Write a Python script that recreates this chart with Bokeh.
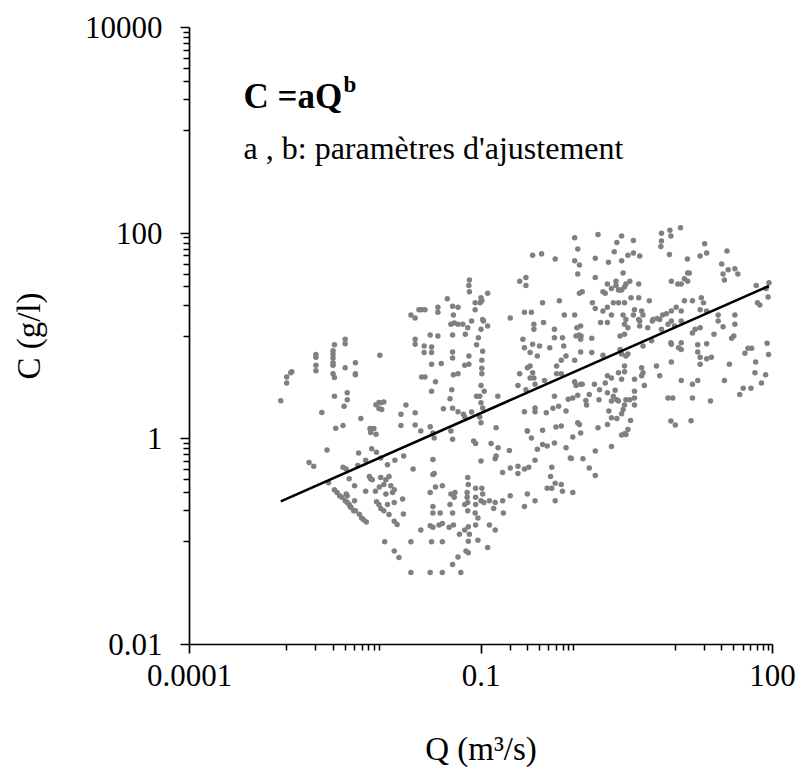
from bokeh.plotting import figure
from bokeh.models import FixedTicker, Range1d, Label, CustomJSTickFormatter
from bokeh.embed import file_html
from bokeh.resources import INLINE

# ---- data: Q (m3/s), C (g/l) ----
q_low = [0.004, 0.004, 0.0031, 0.002, 0.002, 0.003, 0.003, 0.003, 0.003, 0.003, 0.002, 0.002, 0.003, 0.0031, 0.004,
         0.0051, 0.0051, 0.0051, 0.0091, 0.001, 0.0011, 0.00113, 0.001, 0.00087, 0.0031, 0.0042, 0.0042, 0.0039, 0.0023,
         0.0058, 0.0083, 0.0089, 0.0089, 0.0032, 0.0038, 0.0072, 0.0079, 0.0073, 0.0083, 0.0026, 0.0017, 0.0019, 0.0055,
         0.0075, 0.0084, 0.0065, 0.0038, 0.0041, 0.0054, 0.0044, 0.0071, 0.0073, 0.0076, 0.0027, 0.005, 0.0065, 0.0082,
         0.0031, 0.0033, 0.0035, 0.0037, 0.004, 0.0042, 0.0044, 0.0046, 0.0049, 0.0041, 0.0042, 0.005, 0.0045, 0.0051,
         0.0056, 0.0059, 0.0062, 0.0066, 0.0084, 0.0089, 0.009]
c_low = [9.3, 8.4, 8.2, 6.6, 6.2, 7.2, 6.7, 6.1, 5.5, 5.2, 5.2, 4.6, 4.3, 3.95, 4.9, 5.5, 4.3, 4.2, 6.5, 4.0, 4.4, 4.5,
         3.5, 2.35, 2.6, 2.8, 2.4, 2.08, 1.8, 1.58, 2.14, 2.25, 1.97, 1.27, 1.35, 1.26, 1.26, 1.15, 1.11, 0.78, 0.59, 0.54,
         0.73, 0.80, 0.74, 0.62, 0.53, 0.51, 0.55, 0.41, 0.43, 0.41, 0.40, 0.375, 0.35, 0.31, 0.31, 0.32, 0.30, 0.28, 0.27,
         0.25, 0.24, 0.23, 0.215, 0.2, 0.29, 0.28, 0.25, 0.22, 0.2, 0.185, 0.17, 0.163, 0.155, 0.245, 0.23, 0.34]

q_mid_top = [0.34, 0.42, 0.58, 0.25, 0.29, 0.29, 0.076, 0.075, 0.076, 0.117, 0.1, 0.102, 0.087, 0.098, 0.045, 0.019,
             0.021, 0.023, 0.0245, 0.0265, 0.036, 0.036, 0.051, 0.058, 0.052, 0.087, 0.2, 0.28, 0.33, 0.43, 0.64, 0.72,
             0.049, 0.053, 0.058, 0.065, 0.08, 0.073, 0.104, 0.106, 0.117, 0.1, 0.35, 0.44, 0.35, 0.57, 0.97]
c_mid_top = [61, 63, 56, 34, 37, 31, 35, 31, 27, 26, 23.5, 22, 21, 21, 23, 16, 15, 18, 18, 18, 19, 17, 19.5, 19, 16, 18,
             15, 17, 17, 21, 22, 16, 13, 13.4, 13, 13, 14, 12, 14.5, 14, 12.5, 11.6, 13, 13.5, 11.6, 11.6, 12]

q_mid_1 = [0.021, 0.021, 0.030, 0.036, 0.051, 0.069, 0.094, 0.026, 0.031, 0.026, 0.031, 0.051, 0.051, 0.075, 0.09,
           0.104, 0.27, 0.34, 0.40, 0.51, 0.28, 0.32, 0.38, 0.57, 0.69, 0.71, 0.75, 0.67]
c_mid_1 = [9.3, 8.3, 10.2, 10, 10.2, 10.4, 9.6, 8.0, 7.8, 6.9, 6.9, 7.0, 6.1, 6.4, 8.2, 7.1, 9.3, 8.3, 8.0, 7.7, 7.7,
           6.9, 6.4, 9.6, 9.6, 8.0, 6.4, 5.8]

q_mid_2 = [0.031, 0.039, 0.068, 0.075, 0.102, 0.102, 0.102, 0.0245, 0.0265, 0.034, 0.052, 0.058, 0.25, 0.30, 0.32,
           0.34, 0.32, 0.35, 0.60, 0.60, 0.67, 0.24, 0.29, 0.36, 0.45, 0.031, 0.05, 0.1, 0.108, 0.09, 0.097, 0.149,
           0.048]
c_mid_2 = [5.3, 5.4, 5.2, 5.3, 5.8, 4.85, 4.3, 4.0, 4.0, 3.6, 4.2, 4.3, 4.3, 4.9, 5.1, 4.4, 3.9, 3.9, 5.1, 4.3, 4.3,
           3.3, 3.0, 3.4, 3.7, 2.9, 3.0, 3.3, 2.9, 2.6, 2.6, 2.6, 2.45]

q_mid_3 = [0.0093, 0.01, 0.0095, 0.0169, 0.021, 0.015, 0.041, 0.051, 0.058, 0.066, 0.068, 0.08, 0.1, 0.104, 0.097,
           0.1, 0.143, 0.30, 0.36, 0.36, 0.28, 0.47, 0.55, 0.63, 0.75, 0.57, 0.79, 0.015, 0.021, 0.024, 0.030, 0.049,
           0.051, 0.033, 0.032]
c_mid_3 = [2.24, 2.28, 1.93, 2.13, 1.79, 1.73, 1.96, 1.98, 1.83, 1.73, 1.63, 1.82, 2.24, 2.0, 1.63, 1.43, 1.28, 1.19,
           2.0, 1.83, 1.83, 1.79, 1.98, 2.08, 1.86, 2.6, 2.42, 1.35, 1.36, 1.19, 1.31, 1.19, 0.99, 1.02, 1.14]

q_mid_4 = [0.084, 0.088, 0.127, 0.15, 0.143, 0.14, 0.196, 0.1, 0.0093, 0.0109, 0.013, 0.016, 0.020, 0.032, 0.032,
           0.033, 0.167, 0.20, 0.24, 0.28, 0.31, 0.36, 0.38, 0.43, 0.48, 0.57, 0.535, 0.30, 0.33, 0.43, 0.59, 0.67,
           0.75, 0.83]
c_mid_4 = [0.95, 0.90, 0.90, 0.82, 0.68, 0.64, 0.77, 0.61, 0.65, 0.56, 0.62, 0.68, 0.51, 0.63, 0.45, 0.46, 0.47, 0.52,
           0.46, 0.51, 0.53, 0.62, 0.79, 0.88, 0.85, 0.91, 0.53, 1.19, 1.02, 1.21, 1.30, 1.33, 0.82, 0.65]

q_mid_5 = [0.0093, 0.0105, 0.0113, 0.01, 0.0118, 0.0128, 0.0123, 0.0105, 0.0156, 0.0128, 0.0109, 0.0093, 0.01, 0.0113,
           0.0128, 0.0137, 0.0159, 0.030, 0.034, 0.040, 0.049, 0.054, 0.053, 0.048, 0.073, 0.074, 0.072, 0.072, 0.073,
           0.088, 0.102, 0.104, 0.088, 0.1, 0.122, 0.14, 0.135, 0.107, 0.032, 0.038, 0.032, 0.051, 0.068, 0.088, 0.073,
           0.087, 0.167, 0.2, 0.17, 0.24, 0.30, 0.36, 0.28, 0.48, 0.52, 0.58, 0.67, 0.58, 0.535, 0.69]
c_mid_5 = [0.42, 0.40, 0.43, 0.36, 0.35, 0.32, 0.30, 0.29, 0.26, 0.24, 0.23, 0.21, 0.2, 0.184, 0.158, 0.147, 0.186,
           0.30, 0.34, 0.35, 0.29, 0.30, 0.27, 0.23, 0.42, 0.36, 0.30, 0.27, 0.24, 0.33, 0.33, 0.29, 0.27, 0.25, 0.25,
           0.24, 0.21, 0.24, 0.22, 0.19, 0.19, 0.19, 0.23, 0.23, 0.2, 0.19, 0.25, 0.28, 0.19, 0.54, 0.29, 0.25, 0.22,
           0.33, 0.43, 0.37, 0.36, 0.25, 0.33, 0.31]

q_mid_6 = [0.024, 0.030, 0.032, 0.037, 0.040, 0.047, 0.052, 0.06, 0.068, 0.074, 0.076, 0.093, 0.088, 0.122, 0.14,
           0.117, 0.093, 0.074, 0.07, 0.074, 0.058, 0.051, 0.031, 0.04, 0.019, 0.0128, 0.0143, 0.019, 0.030, 0.040,
           0.062, 0.0102]
c_mid_6 = [0.13, 0.143, 0.138, 0.145, 0.15, 0.138, 0.145, 0.118, 0.13, 0.14, 0.118, 0.17, 0.145, 0.145, 0.13, 0.088,
           0.103, 0.101, 0.081, 0.078, 0.071, 0.06, 0.1, 0.1, 0.1, 0.081, 0.07, 0.05, 0.05, 0.05, 0.05, 0.1]

q_high_1 = [0.95, 1.02, 1.07, 1.06, 1.38, 2.7, 3.0, 1.06, 1.38, 0.92, 1.8, 2.7, 2.8, 3.25, 3.1, 4.65, 5.7, 9.0, 9.1,
            11.5, 10.8, 11.5, 15, 17, 17, 18, 18, 21, 23.5, 21, 25, 40, 38, 52, 56, 61, 67, 66, 36, 77, 9.1, 6.4, 6.9,
            11.5, 15, 17, 32, 46, 50, 60, 23, 15, 8.4, 9.4, 9.0, 10, 14.5]
c_high_1 = [10, 10.2, 10, 9.3, 9.5, 10, 10.4, 7.0, 6.9, 5.8, 6.5, 7.4, 6.7, 6.7, 6.4, 8.0, 9.0, 8.6, 8.3, 8.6, 7.7,
            7.4, 10.7, 8.2, 7.0, 6.2, 5.3, 6.0, 6.2, 8.4, 10.4, 10, 9.5, 6.8, 7.6, 7.6, 5.6, 4.4, 5.3, 3.5, 5.6, 5.1,
            4.1, 3.7, 3.4, 3.7, 3.7, 2.7, 3.1, 3.1, 2.33, 2.5, 2.5, 2.5, 1.49, 1.36, 1.5]

q_high_2 = [0.92, 0.95, 1.06, 1.1, 1.47, 2.0, 2.2, 1.9, 2.6, 3.0, 2.8, 3.0, 4.5, 4.65, 4.5, 3.8, 4.8, 0.88, 0.99, 1.3,
            1.2, 1.22, 1.66, 1.64, 2.0, 2.4, 2.3, 2.5, 2.6, 2.2, 3.1, 3.4, 3.8, 3.8, 3.8, 3.0, 2.9, 2.8, 2.07, 2.2, 2.5,
            3.46, 2.0, 1.6, 1.06, 0.99, 1.03, 3.25, 3.0, 2.8, 3.1, 0.88, 1.5, 2.2, 0.85, 1.12, 1.3, 1.5, 0.88]
c_high_2 = [3.6, 3.3, 3.4, 3.4, 3.4, 4.1, 3.9, 3.5, 4.4, 4.5, 3.8, 5.1, 4.9, 4.4, 4.1, 3.8, 3.3, 2.5, 2.66, 2.7, 2.36,
            2.13, 3.0, 2.4, 2.8, 2.96, 2.6, 2.4, 2.33, 2.33, 2.4, 2.4, 2.9, 2.5, 2.13, 2.13, 1.93, 1.75, 1.86, 1.6, 1.58,
            1.51, 1.38, 1.28, 1.14, 1.43, 1.38, 1.23, 1.12, 1.09, 1.1, 1.04, 0.76, 0.84, 0.645, 0.64, 0.52, 0.44, 0.30]

q_high_3 = [0.92, 0.99, 1.6, 2.8, 2.5, 3.7, 7.2, 8.8, 11.3, 9.0, 7.2, 7.1, 8.7, 20, 21, 18, 13.3, 34, 30, 35, 41, 44,
            31, 32, 0.92, 1.03, 1.5, 2.05, 2.35, 3.25, 3.7, 4.3, 2.8, 2.9, 2.45, 2.7, 0.99, 1.5, 2.0, 2.2, 1.8, 1.03,
            1.1, 1.9, 2.45, 3.1, 3.4, 4.2, 3.0, 2.8, 2.6, 3.5, 4.2, 5.4, 4.5, 4.65, 3.8, 3.0, 2.6, 2.3, 1.4, 1.5, 1.8,
            2.0, 2.2, 2.0, 1.7, 0.92, 1.06, 2.9, 3.1, 3.7, 4.2, 4.3, 5.9, 5.8, 6.5, 6.9, 8.1, 9.1, 10.2, 11.5, 11.5,
            12.4, 15, 18.5, 18, 19.5, 21, 27.6, 41, 41, 68, 70, 74, 9.1, 10.6, 11.5, 12.4, 13.9, 13.4, 13.4, 9.1, 9.8,
            8.4, 7.4, 7.2, 5.2, 4.3, 3.25, 3.0, 27.6, 31, 16, 18]
c_high_3 = [90, 70, 97, 94, 81, 85, 100, 107, 113, 94, 84, 74, 62, 79, 64, 60, 56, 67, 50, 44, 45, 40, 40, 35, 54, 49,
            57, 52, 66, 61, 64, 60, 54, 41, 34, 28, 40, 37, 32, 29, 27, 26, 27, 26, 31, 32, 34, 32, 30, 28, 28, 23.5,
            23.5, 22, 17.5, 16, 18, 21, 21, 21, 21, 18.5, 17.5, 19, 16, 13.5, 13.5, 16, 12.5, 16, 14.5, 16, 14.5, 14,
            14.5, 14, 14.8, 14.5, 16.5, 17.5, 19, 17.5, 14, 22, 22, 23.5, 18, 21, 17.5, 16, 16, 13, 31, 21, 20, 34, 32,
            32, 36, 41, 41, 34, 14, 12.5, 13, 16, 11.6, 12, 12.5, 12, 13, 14, 12.3, 11.6, 12]

# points at the right edge of the Q range
q_edge = [86, 90, 92, 88, 91, 85]
c_edge = [29, 24, 33, 8.5, 6.6, 4.2]

# power-law fit C = a Q^b, drawn over the observed Q range
fit_a = 4.65
fit_b = 0.417

# axis ticks
x_major = [0.0001, 0.1, 100]
x_minor = [0.001, 0.002, 0.003, 0.004, 0.005, 0.006, 0.007, 0.008, 0.009,
           0.2, 0.3, 0.4, 0.5, 0.6, 0.7, 0.8, 0.9,
           10, 20, 30, 40, 50, 60, 70, 80, 90]
y_major = [0.01, 1, 100, 10000]
y_minor = [0.1, 0.2, 0.3, 0.4, 0.5, 0.6, 0.7, 0.8, 0.9,
           10, 20, 30, 40, 50, 60, 70, 80, 90,
           1000, 2000, 3000, 4000, 5000, 6000, 7000, 8000, 9000]

groups = [(q_low, c_low), (q_mid_top, c_mid_top), (q_mid_1, c_mid_1), (q_mid_2, c_mid_2), (q_mid_3, c_mid_3),
          (q_mid_4, c_mid_4), (q_mid_5, c_mid_5), (q_mid_6, c_mid_6), (q_high_1, c_high_1), (q_high_2, c_high_2),
          (q_high_3, c_high_3), (q_edge, c_edge)]
q_all, c_all = [], []
for qs, cs in groups:
    n = min(len(qs), len(cs))
    q_all += qs[:n]
    c_all += cs[:n]

fit_q = [min(q_all), max(q_all)]
fit_c = [fit_a * q ** fit_b for q in fit_q]

FONT = "Liberation Serif"

p = figure(frame_width=583, frame_height=617, x_axis_type="log", y_axis_type="log",
           x_range=Range1d(1e-4, 100), y_range=Range1d(0.01, 10000),
           output_backend="svg", toolbar_location=None,
           min_border_left=189, min_border_right=27, min_border_top=27, min_border_bottom=10)
p.outline_line_color = None
p.xgrid.visible = False
p.ygrid.visible = False
p.background_fill_color = "white"
p.border_fill_color = "white"

p.scatter(q_all, c_all, size=5.5, fill_color="#808080", line_color=None)
p.line(fit_q, fit_c, line_color="black", line_width=2.6)

fmt = CustomJSTickFormatter(code="return tick.toString();")
p.xaxis.ticker = FixedTicker(ticks=x_major, minor_ticks=x_minor)
p.yaxis.ticker = FixedTicker(ticks=y_major, minor_ticks=y_minor)
for ax in (p.xaxis[0], p.yaxis[0]):
    ax.formatter = fmt
    ax.axis_line_color = "black"
    ax.axis_line_width = 1.7
    ax.major_tick_line_color = "black"
    ax.major_tick_line_width = 1.7
    ax.minor_tick_line_color = "black"
    ax.minor_tick_line_width = 1.5
    ax.major_tick_in = 0
    ax.major_tick_out = 9
    ax.minor_tick_in = 0
    ax.minor_tick_out = 6
    ax.major_label_text_font = FONT
    ax.major_label_text_font_size = "31px"
    ax.major_label_text_color = "black"
    ax.axis_label_text_font = FONT
    ax.axis_label_text_font_size = "33px"
    ax.axis_label_text_font_style = "normal"
    ax.axis_label_text_color = "black"

p.xaxis.axis_label = "Q (m³/s)"
p.yaxis.axis_label = "C (g/l)"
p.xaxis.major_label_standoff = 11
p.yaxis.major_label_standoff = 18
p.xaxis.axis_label_standoff = 42
p.yaxis.axis_label_standoff = 35

title_q, title_c = 0.00036, 2150
p.add_layout(Label(x=title_q, y=title_c, text="C =aQ", text_font=FONT, text_font_size="35px",
                   text_font_style="bold", text_color="black", text_baseline="alphabetic", text_align="left"))
p.add_layout(Label(x=title_q, y=title_c, x_offset=100, y_offset=12, text="b", text_font=FONT,
                   text_font_size="23px", text_font_style="bold", text_color="black",
                   text_baseline="alphabetic", text_align="left"))
p.add_layout(Label(x=title_q, y=670, text="a , b: paramètres d'ajustement", text_font=FONT,
                   text_font_size="32px", text_color="black", text_baseline="alphabetic", text_align="left"))

open("out.html", "w").write(file_html(p, INLINE))
